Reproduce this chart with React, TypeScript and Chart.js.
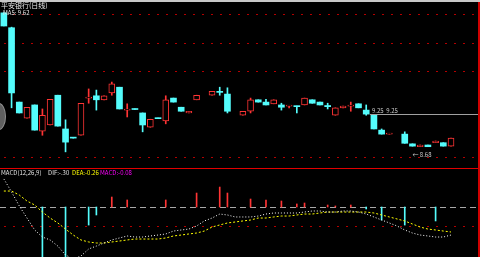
import React, { useEffect, useRef } from "react";
import { Chart, registerables } from "chart.js";

Chart.register(...registerables);

// ---- data ----
const dayLabels: string[] = [
  "D01","D02","D03","D04","D05","D06","D07","D08","D09","D10",
  "D11","D12","D13","D14","D15","D16","D17","D18","D19","D20",
  "D21","D22","D23","D24","D25","D26","D27","D28","D29","D30",
  "D31","D32","D33","D34","D35","D36","D37","D38","D39","D40",
  "D41","D42","D43","D44","D45","D46","D47","D48","D49","D50",
  "D51","D52","D53","D54","D55","D56","D57","D58","D59","","","",
];

const opens: (number | null)[] = [
  11.02, 10.76, 9.46, 9.18, 9.41, 8.95, 9.06, 9.58, 8.99, 8.84,
  8.88, 9.53, 9.57, 9.5, 9.62, 9.72, 9.32, 9.34, 9.27, 9.02,
  9.18, 9.13, 9.53, 9.37, 9.27, 9.5, null, 9.58, 9.64, 9.6,
  null, 9.23, 9.3, 9.5, 9.46, 9.43, 9.41, 9.39, 9.39, 9.41,
  9.5, 9.46, 9.4, 9.23, 9.36, 9.39, 9.43, 9.32, 9.23, 8.97,
  8.9, null, 8.9, 8.73, 8.68, 8.71, 8.75, 8.75, 8.69,
];
const closes: (number | null)[] = [
  10.79, 9.62, 9.27, 9.37, 8.97, 9.23, 9.51, 9.04, 8.76, 8.83,
  9.44, 9.54, 9.5, 9.57, 9.78, 9.34, 9.33, 9.33, 9.06, 9.16,
  9.17, 9.5, 9.46, 9.3, 9.3, 9.58, null, 9.65, 9.63, 9.3,
  null, 9.3, 9.5, 9.46, 9.41, 9.5, 9.37, 9.4, 9.38, 9.53,
  9.44, 9.41, 9.38, 9.36, 9.39, 9.4, 9.36, 9.25, 8.99, 8.9,
  8.91, null, 8.74, 8.69, 8.71, 8.68, 8.78, 8.69, 8.83,
];
const highs: (number | null)[] = [
  11.02, 10.77, 9.46, 9.37, 9.41, 9.34, 9.51, 9.58, 9.15, 8.84,
  9.44, 9.69, 9.67, 9.57, 9.81, 9.72, 9.43, 9.34, 9.27, 9.16,
  9.18, 9.57, 9.53, 9.37, 9.3, 9.58, null, 9.65, 9.72, 9.71,
  null, 9.3, 9.53, 9.5, 9.51, 9.5, 9.44, 9.4, 9.39, 9.53,
  9.5, 9.46, 9.44, 9.36, 9.39, 9.46, 9.43, 9.41, 9.23, 8.99,
  8.91, null, 8.94, 8.73, 8.71, 8.71, 8.78, 8.75, 8.83,
];
const lows: (number | null)[] = [
  10.79, 9.36, 9.27, 9.18, 8.97, 8.88, 9.06, 9.04, 8.59, 8.83,
  8.88, 9.44, 9.32, 9.5, 9.58, 9.34, 9.2, 9.33, 8.94, 9.02,
  9.17, 9.08, 9.46, 9.3, 9.27, 9.5, null, 9.58, 9.58, 9.27,
  null, 9.23, 9.27, 9.46, 9.41, 9.43, 9.32, 9.36, 9.27, 9.41,
  9.44, 9.41, 9.34, 9.23, 9.36, 9.3, 9.36, 9.23, 8.99, 8.9,
  8.9, null, 8.74, 8.69, 8.68, 8.68, 8.75, 8.69, 8.69,
];

const difLine: number[] = [
  0.295, 0.158, 0.011, -0.116, -0.242, -0.316, -0.347, -0.411, -0.505, -0.547,
  -0.516, -0.442, -0.411, -0.379, -0.347, -0.326, -0.305, -0.316, -0.316, -0.305,
  -0.295, -0.284, -0.253, -0.242, -0.232, -0.2, -0.147, -0.116, -0.074, -0.084,
  -0.105, -0.105, -0.105, -0.095, -0.074, -0.063, -0.063, -0.063, -0.063, -0.053,
  -0.042, -0.042, -0.053, -0.053, -0.042, -0.042, -0.053, -0.074, -0.105, -0.137,
  -0.168, -0.2, -0.242, -0.274, -0.295, -0.305, -0.316, -0.316, -0.295,
];
const deaLine: number[] = [
  0.168, 0.168, 0.126, 0.063, 0.021, -0.053, -0.116, -0.168, -0.232, -0.295,
  -0.347, -0.368, -0.379, -0.379, -0.368, -0.358, -0.347, -0.337, -0.337, -0.337,
  -0.337, -0.326, -0.305, -0.295, -0.284, -0.274, -0.253, -0.211, -0.189, -0.168,
  -0.158, -0.147, -0.137, -0.116, -0.116, -0.105, -0.095, -0.095, -0.084, -0.074,
  -0.074, -0.063, -0.053, -0.053, -0.053, -0.053, -0.053, -0.053, -0.063, -0.084,
  -0.105, -0.126, -0.147, -0.179, -0.211, -0.232, -0.242, -0.253, -0.263,
];
const macdHist: (number | null)[] = [
  null, null, null, null, null, -0.53, null, null, -0.53, null,
  null, -0.19, -0.084, null, 0.105, null, 0.074, null, null, null,
  null, 0.074, null, null, null, 0.147, null, null, 0.21, 0.147,
  null, null, 0.084, null, 0.074, null, 0.063, null, 0.032, 0.042,
  null, null, 0.021, 0.011, null, 0.021, null, -0.021, null, -0.137,
  null, null, -0.19, null, null, null, -0.147, null, null,
];

const priceGrid: number[] = [11.0, 10.5, 10.0, 8.5];
const lastPrice = 9.25;
const lowPrice = 8.68;
const titleText = "平安银行(日线)";
const subTitleText = "MA5: 9.62";
const macdLegend: string[] = ["MACD(12,26,9)", "DIF:-.30", "DEA:-0.26", "MACD:-0.08"];

const UP = "#ff3434";
const DOWN = "#54fcfc";
const FONT = '"Noto Sans CJK SC", "DejaVu Sans", sans-serif';

const topDecor = {
  id: "topDecor",
  beforeDatasetsDraw(chart: any) {
    const { ctx, chartArea, scales } = chart;
    ctx.save();
    ctx.strokeStyle = "#b40000";
    ctx.lineWidth = 1;
    ctx.setLineDash([2, 7]);
    for (const v of priceGrid) {
      const y = Math.round(scales.y.getPixelForValue(v)) + 0.5;
      ctx.beginPath();
      ctx.moveTo(chartArea.left + 4, y);
      ctx.lineTo(chartArea.right, y);
      ctx.stroke();
    }
    ctx.restore();
  },
  afterDatasetsDraw(chart: any) {
    const { ctx, chartArea, scales } = chart;
    ctx.save();
    // last price line
    const yp = Math.round(scales.y.getPixelForValue(lastPrice)) + 0.5;
    const xs = scales.x.getPixelForValue(48) - 4;
    ctx.strokeStyle = "#a0a0a0";
    ctx.lineWidth = 1;
    ctx.beginPath();
    ctx.moveTo(xs, yp);
    ctx.lineTo(chartArea.right, yp);
    ctx.stroke();
    ctx.fillStyle = "#c8c8c8";
    ctx.font = `6px ${FONT}`;
    ctx.textBaseline = "bottom";
    ctx.fillText(`${lastPrice.toFixed(2)}  ${lastPrice.toFixed(2)}`, xs + 2, yp - 1);
    // low label
    const yl = scales.y.getPixelForValue(lowPrice) + 11;
    ctx.fillText(`\u2190 ${lowPrice.toFixed(2)}`, scales.x.getPixelForValue(53), yl);
    // titles
    ctx.textBaseline = "top";
    ctx.fillStyle = "#e8e8e8";
    ctx.font = `7px ${FONT}`;
    ctx.fillText(titleText, 1, 0);
    ctx.font = `6px ${FONT}`;
    ctx.fillText(subTitleText, 3, 8);
    ctx.restore();
  },
};

const bottomDecor = {
  id: "bottomDecor",
  beforeDatasetsDraw(chart: any) {
    const { ctx, chartArea, scales } = chart;
    ctx.save();
    ctx.lineWidth = 1;
    const y0 = Math.round(scales.y.getPixelForValue(0)) + 0.5;
    ctx.strokeStyle = "#a8a8a8";
    ctx.setLineDash([6, 4]);
    ctx.beginPath();
    ctx.moveTo(chartArea.left, y0);
    ctx.lineTo(chartArea.right, y0);
    ctx.stroke();
    const y2 = Math.round(scales.y.getPixelForValue(-0.2)) + 0.5;
    ctx.strokeStyle = "#b40000";
    ctx.setLineDash([2, 7]);
    ctx.beginPath();
    ctx.moveTo(chartArea.left + 4, y2);
    ctx.lineTo(chartArea.right, y2);
    ctx.stroke();
    ctx.restore();
  },
  afterDraw(chart: any) {
    const { ctx } = chart;
    ctx.save();
    ctx.textBaseline = "top";
    ctx.font = `6px ${FONT}`;
    const colors = ["#e0e0e0", "#e0e0e0", "#ffff00", "#ff00ff"];
    const xs = [1, 48, 72, 100];
    macdLegend.forEach((t, i) => {
      ctx.fillStyle = colors[i];
      ctx.fillText(t, xs[i], 1);
    });
    ctx.restore();
  },
};

export default function App() {
  const topRef = useRef<HTMLCanvasElement | null>(null);
  const botRef = useRef<HTMLCanvasElement | null>(null);

  useEffect(() => {
    document.body.style.margin = "0";
    const upFlags = opens.map((o, i) => o != null && (closes[i] as number) >= o);

    const top = new Chart(topRef.current as HTMLCanvasElement, {
      type: "bar",
      data: {
        labels: dayLabels,
        datasets: [
          {
            label: "body",
            data: opens.map((o, i) => (o == null ? null : [o, closes[i] as number])) as any,
            backgroundColor: upFlags.map((u) => (u ? "#000000" : DOWN)),
            borderColor: upFlags.map((u) => (u ? UP : DOWN)),
            borderWidth: upFlags.map((u) => (u ? 1 : 0)),
            borderSkipped: false,
            barThickness: 6,
            minBarLength: 1,
            grouped: false,
            order: 0,
          } as any,
          {
            label: "wick",
            data: lows.map((l, i) => (l == null ? null : [l, highs[i] as number])) as any,
            backgroundColor: upFlags.map((u) => (u ? UP : DOWN)),
            borderWidth: 0,
            barThickness: 1,
            grouped: false,
            order: 1,
          } as any,
        ],
      },
      options: {
        animation: false,
        responsive: false,
        maintainAspectRatio: false,
        events: [],
        layout: { padding: 0 },
        plugins: { legend: { display: false }, tooltip: { enabled: false } },
        scales: {
          x: { display: false, offset: true, grid: { display: false } },
          y: { display: false, min: 8.3077, max: 11.2098 },
        },
      },
      plugins: [topDecor],
    });

    const bottom = new Chart(botRef.current as HTMLCanvasElement, {
      type: "bar",
      data: {
        labels: dayLabels,
        datasets: [
          {
            type: "line",
            label: "DIF",
            data: difLine,
            borderColor: "#ffffff",
            borderWidth: 1,
            borderDash: [1, 2],
            pointRadius: 0,
            tension: 0,
            order: 0,
          } as any,
          {
            type: "line",
            label: "DEA",
            data: deaLine,
            borderColor: "#ffff00",
            borderWidth: 1,
            borderDash: [2, 2],
            pointRadius: 0,
            tension: 0,
            order: 1,
          } as any,
          {
            type: "bar",
            label: "MACD",
            data: macdHist,
            backgroundColor: macdHist.map((v) => (v != null && v >= 0 ? UP : DOWN)),
            borderWidth: 0,
            barThickness: 1,
            grouped: false,
            order: 2,
          } as any,
        ],
      },
      options: {
        animation: false,
        responsive: false,
        maintainAspectRatio: false,
        events: [],
        layout: { padding: 0 },
        plugins: { legend: { display: false }, tooltip: { enabled: false } },
        scales: {
          x: { display: false, offset: true, grid: { display: false } },
          y: { display: false, min: -0.5263, max: 0.4 },
        },
      },
      plugins: [bottomDecor],
    });

    return () => {
      top.destroy();
      bottom.destroy();
    };
  }, []);

  return (
    <div style={{ position: "fixed", left: 0, top: 0, width: 500, height: 257, background: "#ffffff", overflow: "hidden" }}>
      <div style={{ position: "absolute", left: 0, top: 0, width: 480, height: 257, background: "#000000" }} />
      <div style={{ position: "absolute", left: 0, top: 0, width: 480, height: 2, background: "#c8c8c8" }} />
      <canvas ref={topRef} width={478} height={166} style={{ position: "absolute", left: 0, top: 2, width: 478, height: 166 }} />
      <div style={{ position: "absolute", left: 0, top: 168, width: 480, height: 1, background: "#e00000" }} />
      <canvas ref={botRef} width={478} height={88} style={{ position: "absolute", left: 0, top: 169, width: 478, height: 88 }} />
      <div style={{ position: "absolute", left: 478, top: 2, width: 2, height: 255, background: "#d00000" }} />
      <div style={{ position: "absolute", left: -8, top: 103, width: 12, height: 25, borderRadius: "50%", background: "#606060", border: "1px solid #909090" }} />
    </div>
  );
}
